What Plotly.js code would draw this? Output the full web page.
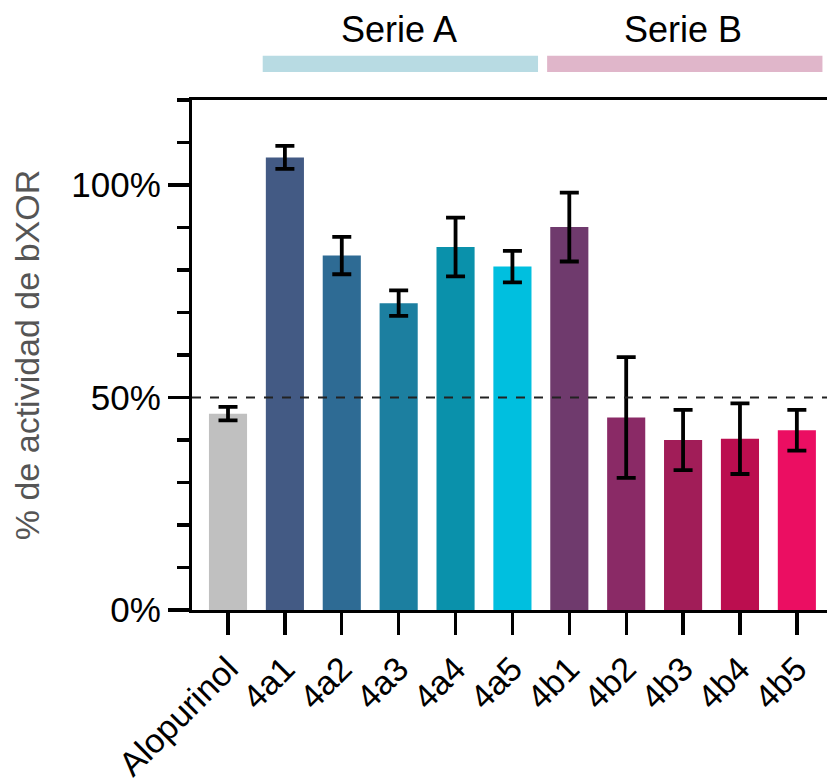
<!DOCTYPE html>
<html>
<head>
<meta charset="utf-8">
<script src="https://cdn.plot.ly/plotly-3.0.1.min.js"></script>
<style>html,body{margin:0;padding:0;background:#fff;}#chart{width:827px;height:784px;}</style>
</head>
<body>
<div id="chart"></div>
<script>
const categories = ["Alopurinol","4a1","4a2","4a3","4a4","4a5","4b1","4b2","4b3","4b4","4b5"];
const values = [46.2, 106.5, 83.4, 72.2, 85.4, 80.8, 90.1, 45.3, 40.0, 40.3, 42.3];
const errors = [1.6, 2.7, 4.4, 3.0, 6.9, 3.7, 8.1, 14.2, 7.1, 8.3, 4.8];
const barColors = ["#c0c0c0","#435a84","#2e6b94","#1c7fa0","#0a91ab","#00bfdf","#6f3a6d","#8a2a66","#a11d58","#bb0e4f","#eb0e62"];
const groupLabels = ["Serie A","Serie B"];
const groupMembers = [["4a1","4a2","4a3","4a4","4a5"],["4b1","4b2","4b3","4b4","4b5"]];
const groupColors = ["#b8dbe3","#e0b6ca"];
const referenceLevel = 50;
const yTickVals = [0, 50, 100];
const yTickText = ["0%","50%","100%"];

const FONT = "Liberation Sans, Arial, Helvetica, sans-serif";

const trace = {
  type: "bar",
  x: categories,
  y: values,
  width: 0.67,
  marker: {color: barColors, line: {width: 0}},
  error_y: {type: "data", array: errors, visible: true, color: "#000", thickness: 3.8, width: 9.5},
  hoverinfo: "x+y"
};

const shapes = [{
  type: "line", xref: "paper", yref: "y", x0: 0, x1: 1, y0: referenceLevel, y1: referenceLevel,
  line: {color: "#222", width: 2, dash: "dash"}
}];
const annotations = [];
groupMembers.forEach((members, g) => {
  const i0 = categories.indexOf(members[0]);
  const i1 = categories.indexOf(members[members.length - 1]);
  shapes.push({
    type: "rect", xref: "x", yref: "paper", x0: i0 - 0.39, x1: i1 + 0.45, y0: 1.055, y1: 1.087,
    fillcolor: groupColors[g], line: {width: 0}, layer: "above"
  });
  annotations.push({
    xref: "x", yref: "paper", x: (i0 + i1) / 2, y: 1.138, text: groupLabels[g], showarrow: false,
    xanchor: "center", yanchor: "middle", font: {family: FONT, size: 36, color: "#000"}
  });
});

const layout = {
  width: 827, height: 784,
  margin: {l: 192, r: 0, t: 100, b: 174, pad: 0},
  paper_bgcolor: "#fff", plot_bgcolor: "#fff",
  showlegend: false,
  font: {family: FONT, color: "#000"},
  xaxis: {
    type: "category",
    range: [-0.633, 10.53],
    showline: true, linecolor: "#000", linewidth: 3.2, mirror: true,
    ticks: "outside", ticklen: 22, tickwidth: 3.4, tickcolor: "#000",
    tickangle: -45, tickfont: {family: FONT, size: 34, color: "#000"},
    showgrid: false, zeroline: false, fixedrange: true
  },
  yaxis: {
    range: [0, 120],
    showline: true, linecolor: "#000", linewidth: 3.2,
    ticks: "outside", ticklen: 21, tickwidth: 3.4, tickcolor: "#000",
    tickvals: yTickVals, ticktext: yTickText,
    tickfont: {family: FONT, size: 35, color: "#000"},
    minor: {dtick: 10, tick0: 0, ticks: "outside", ticklen: 12, tickwidth: 3.4, tickcolor: "#000", showgrid: false},
    showgrid: false, zeroline: false, fixedrange: true,
    title: {text: "% de actividad de bXOR", font: {family: FONT, size: 34, color: "#555"}, standoff: 22}
  },
  shapes: shapes,
  annotations: annotations
};

Plotly.newPlot("chart", [trace], layout, {displayModeBar: false, staticPlot: true});
</script>
</body>
</html>
